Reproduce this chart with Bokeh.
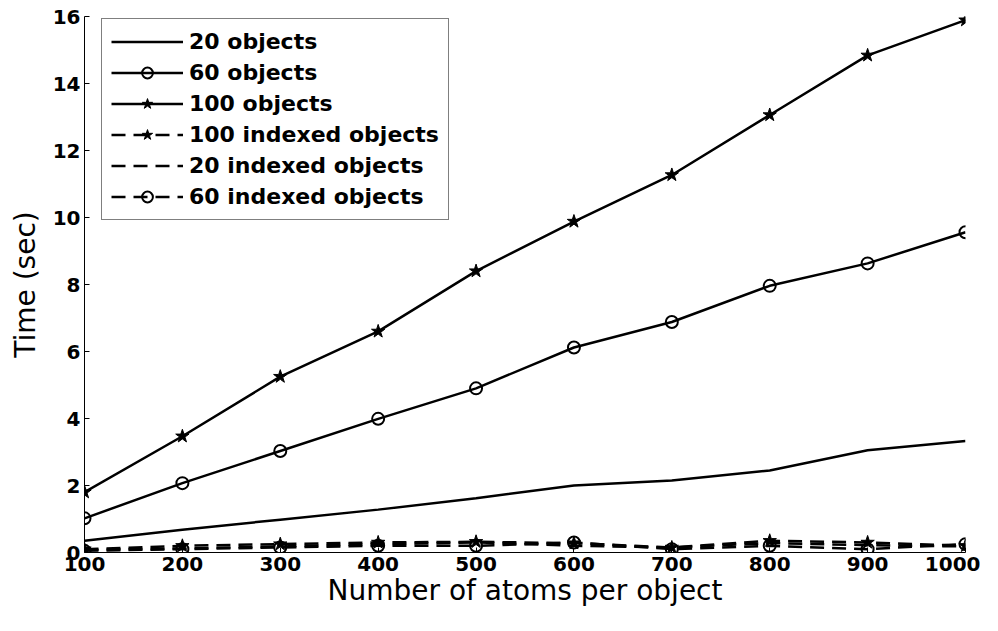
from bokeh.plotting import figure
from bokeh.models import Range1d, FixedTicker, Legend, LegendItem
from bokeh.embed import file_html
from bokeh.resources import INLINE

atoms = [100, 200, 300, 400, 500, 600, 700, 800, 900, 1000]
obj20 = [0.35, 0.68, 0.98, 1.28, 1.62, 2.0, 2.15, 2.45, 3.05, 3.33]
obj60 = [1.02, 2.07, 3.03, 3.99, 4.9, 6.12, 6.88, 7.96, 8.63, 9.56]
obj100 = [1.8, 3.47, 5.25, 6.6, 8.4, 9.88, 11.27, 13.06, 14.84, 15.89]
idx100 = [0.1, 0.2, 0.25, 0.3, 0.32, 0.28, 0.15, 0.35, 0.3, 0.2]
idx20 = [0.08, 0.12, 0.18, 0.25, 0.3, 0.2, 0.15, 0.28, 0.22, 0.18]
idx60 = [0.05, 0.1, 0.15, 0.2, 0.2, 0.3, 0.1, 0.2, 0.1, 0.25]
x_ticks = [100, 200, 300, 400, 500, 600, 700, 800, 900, 1000]
y_ticks = [0, 2, 4, 6, 8, 10, 12, 14, 16]

FH = 536
p = figure(frame_width=881, frame_height=FH, output_backend="svg", toolbar_location=None,
           x_range=Range1d(100, 1000), y_range=Range1d(0, 16),
           min_border_left=84, min_border_right=15, min_border_top=16, min_border_bottom=0)
p.outline_line_color = None
p.xgrid.visible = False
p.ygrid.visible = False

for ax in (p.xaxis[0], p.yaxis[0]):
    ax.major_label_text_font = "DejaVu Sans"
    ax.major_label_text_font_style = "bold"
    ax.major_label_text_font_size = "20px"
    ax.major_label_text_color = "black"
    ax.axis_label_text_font = "DejaVu Sans"
    ax.axis_label_text_font_style = "normal"
    ax.axis_label_text_font_size = "28px"
    ax.axis_label_text_color = "black"
    ax.major_tick_in = 5
    ax.major_tick_out = 0
    ax.minor_tick_in = 0
    ax.minor_tick_out = 0
    ax.axis_line_color = "black"
    ax.major_tick_line_color = "black"
    ax.major_label_standoff = 4

p.xaxis.ticker = FixedTicker(ticks=x_ticks)
p.yaxis.ticker = FixedTicker(ticks=y_ticks)
p.xaxis.axis_label = "Number of atoms per object"
p.yaxis.axis_label = "Time (sec)"
p.xaxis.axis_label_standoff = 0
p.yaxis.axis_label_standoff = 8

dash = "14 8"
LW = 2.5
r20 = p.line(atoms, obj20, line_color="black", line_width=2.5)
r60 = p.line(atoms, obj60, line_color="black", line_width=LW)
m60 = p.scatter(atoms, obj60, marker="circle", size=12, line_color="black", line_width=2, fill_alpha=0)
r100 = p.line(atoms, obj100, line_color="black", line_width=LW)
m100 = p.scatter(atoms, obj100, marker="star", size=14, line_color="black", fill_color="black")
ri100 = p.line(atoms, idx100, line_color="black", line_width=LW, line_dash=dash)
mi100 = p.scatter(atoms, idx100, marker="star", size=14, line_color="black", fill_color="black")
ri20 = p.line(atoms, idx20, line_color="black", line_width=LW, line_dash=dash)
ri60 = p.line(atoms, idx60, line_color="black", line_width=LW, line_dash=dash)
mi60 = p.scatter(atoms, idx60, marker="circle", size=12, line_color="black", line_width=2, fill_alpha=0)

LEG_H = 6 * 27 + 5 * 4 + 2 * 9
legend = Legend(items=[
    LegendItem(label="20 objects", renderers=[r20]),
    LegendItem(label="60 objects", renderers=[r60, m60]),
    LegendItem(label="100 objects", renderers=[r100, m100]),
    LegendItem(label="100 indexed objects", renderers=[ri100, mi100]),
    LegendItem(label="20 indexed objects", renderers=[ri20]),
    LegendItem(label="60 indexed objects", renderers=[ri60, mi60]),
], location=(17, FH - LEG_H - 4))
legend.label_text_font = "DejaVu Sans"
legend.label_text_font_style = "bold"
legend.label_text_font_size = "22px"
legend.label_text_color = "black"
legend.glyph_width = 72
legend.glyph_height = 27
legend.label_height = 27
legend.spacing = 4
legend.padding = 9
legend.label_standoff = 6
legend.border_line_color = "black"
legend.border_line_width = 1.5
legend.background_fill_color = "white"
legend.background_fill_alpha = 1
legend.margin = 0
p.add_layout(legend)

open("out.html", "w").write(file_html(p, INLINE))
